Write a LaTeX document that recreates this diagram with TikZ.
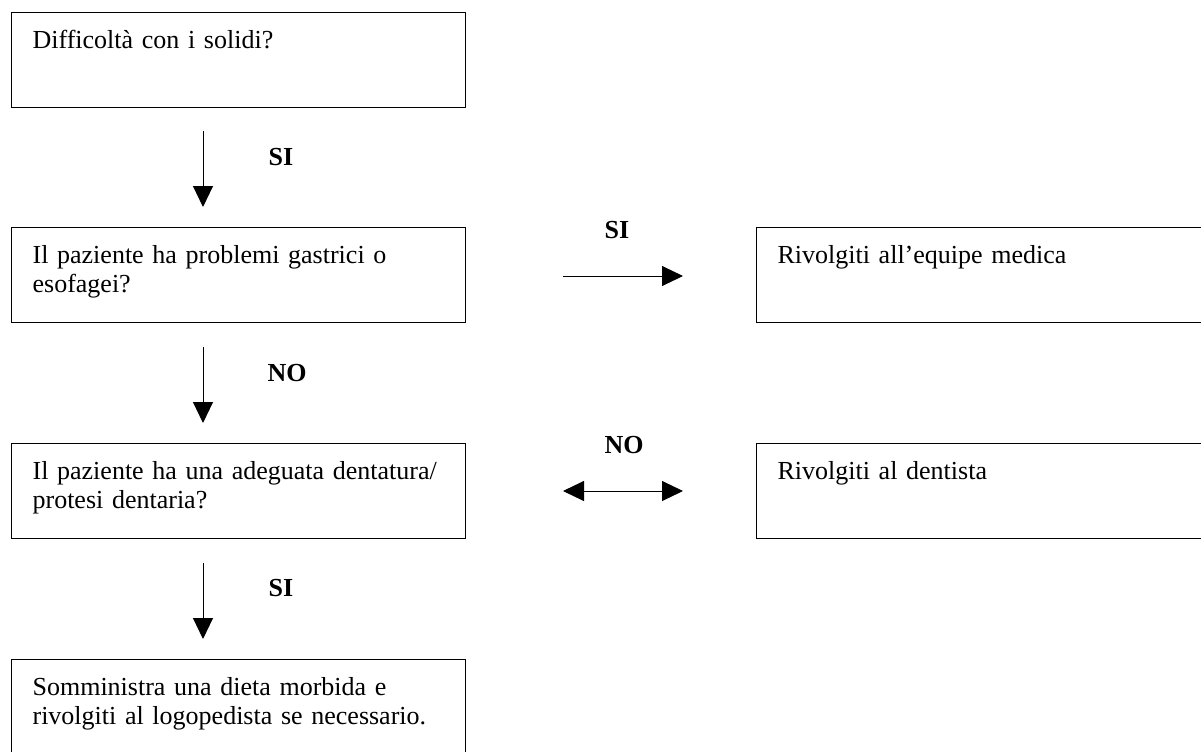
\documentclass[tikz,border=0pt]{standalone}
\usepackage{fontspec}
\setmainfont{Liberation Serif}
\usepackage{tikz}
\usetikzlibrary{positioning,arrows.meta}
\tikzstyle{box}   = [draw, line width=0.6pt, rectangle, anchor=north west, inner xsep=10.5pt, inner ysep=0pt, text width=206pt, align=left, text height=18pt, text depth=29.5pt]
\tikzstyle{arrow} = [line width=0.5pt, -{Triangle[length=10.5pt,width=10pt]}]
\tikzstyle{both}  = [line width=0.5pt, {Triangle[length=10.5pt,width=10pt]}-{Triangle[length=10.5pt,width=10pt]}]
\tikzstyle{lbl}   = [font=\fontsize{13}{14.5}\selectfont\bfseries, inner sep=0pt]

\begin{document}
\begin{tikzpicture}[x=0.5pt, y=-0.5pt, font=\fontsize{13}{14.5}\selectfont]
		\useasboundingbox (0,0) rectangle (1201,751);
		\clip (0,0) rectangle (1201,751);
		% left column
		\node[box] (solidi) at (11,12) {Difficolt\`a con i solidi?};
		\node[box] (gastrici) at (11,227) {Il paziente ha problemi gastrici o\\esofagei?};
		\node[box] (dentatura) at (11,443) {Il paziente ha una adeguata dentatura/\\protesi dentaria?};
		\node[box] (dieta) at (11,659) {Somministra una dieta morbida e\\rivolgiti al logopedista se necessario.};
		% right column
		\node[box] (equipe) at (756,227) {Rivolgiti all'equipe medica};
		\node[box] (dentista) at (756,443) {Rivolgiti al dentista};
		% arrow ends
		\coordinate (a1) at (203,131);
		\coordinate (b1) at (203,207);
		\coordinate (a2) at (203,347);
		\coordinate (b2) at (203,423);
		\coordinate (a3) at (203,563);
		\coordinate (b3) at (203,639);
		\coordinate (a4) at (563,276);
		\coordinate (b4) at (683,276);
		\coordinate (a5) at (563,491);
		\coordinate (b5) at (683,491);
		\draw[arrow] (a1) -- (b1);
		\draw[arrow] (a2) -- (b2);
		\draw[arrow] (a3) -- (b3);
		\draw[arrow] (a4) -- (b4);
		\draw[both] (a5) -- (b5);
		% labels
		\node[lbl] (si1) at (281,157) {SI};
		\node[lbl] (no1) at (287,373) {NO};
		\node[lbl] (si2) at (281,588) {SI};
		\node[lbl] (si3) at (617,230) {SI};
		\node[lbl] (no2) at (624,445) {NO};
	\end{tikzpicture}
\end{document}
